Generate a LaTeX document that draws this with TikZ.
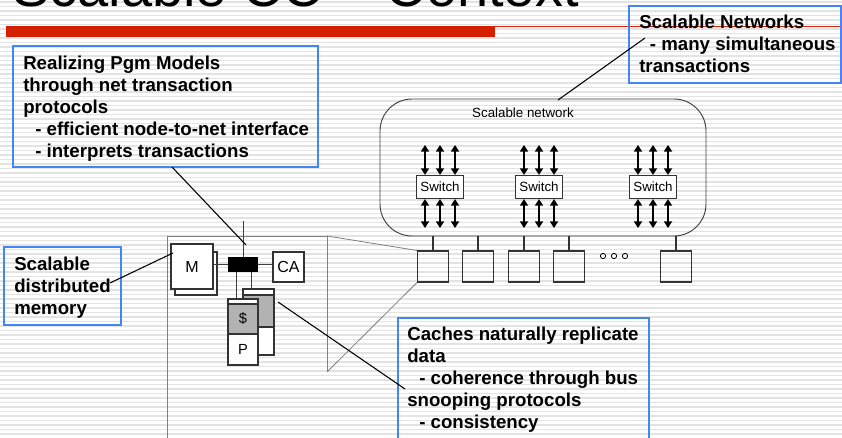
\documentclass[tikz,border=0pt]{standalone}
\usepackage{fontspec}
\setmainfont{Liberation Sans}
\usetikzlibrary{arrows.meta}
\definecolor{boxblue}{RGB}{66,133,244}
\definecolor{titlered}{RGB}{212,32,0}

\begin{document}
\begin{tikzpicture}[x=0.75pt,y=-0.75pt,
        stripe/.style={color=black!11,line width=1pt},
        note/.style={draw=boxblue,line width=1.1pt},
        notetext/.style={anchor=north west,align=left,inner sep=0pt,font=\fontsize{14}{16.5}\selectfont\bfseries},
        callout/.style={line width=0.8pt},
        frame/.style={draw=black!50,line width=0.6pt},
        unit/.style={draw=black!80,line width=0.8pt,inner sep=0pt},
        link/.style={{Triangle[width=6pt,length=5pt]}-{Triangle[width=6pt,length=5pt]},line width=1.5pt},
        small/.style={font=\fontsize{10}{12}\selectfont}]
    \def\px{0.75pt}
    \clip (0,0) rectangle (842,438);
    \fill[white] (0,0) rectangle (842,438);
    \foreach \y in {2,6.5,...,438} {
            \draw[stripe] (0,\y) -- (842,\y);
        }

    % title and bar
    \node[anchor=base west,inner sep=0pt,font=\fontsize{42}{50}\selectfont] (title) at (12,7) {Scalable CC -- Context};
    \fill[titlered] (6,26) rectangle (495,37);
    \draw[titlered,line width=0.8pt] (495,26.5) -- (842,26.5);

    % network cloud
    \draw[draw=black!75,line width=0.7pt,rounded corners=24pt] (380,99) rectangle (706,236);
    \node[small] (netlabel) at (523,113) {Scalable network};
    \foreach \n/\x in {1/440,2/539,3/653} {
            \node[unit,fill=white,small,minimum width=47*\px,minimum height=23*\px] (sw\n) at (\x,187) {Switch};
            \foreach \d in {-15,0,15} {
                    \draw[link] ([xshift=\d*\px]sw\n.north) -- ++(0,-30);
                    \draw[link] ([xshift=\d*\px]sw\n.south) -- ++(0,29);
                }
        }

    % nodes on the bus
    \foreach \n/\x in {1/433,2/478,3/524,4/569,5/676} {
            \node[unit,minimum size=31*\px] (pe\n) at (\x,266.5) {};
            \draw[draw=black!80,line width=0.8pt] (pe\n.north) -- (\x,236);
        }
    \foreach \n/\x in {1/603,2/614,3/625} {
            \node[circle,draw,line width=0.6pt,inner sep=1.4pt] (dot\n) at (\x,256) {};
        }

    % zoomed node
    \draw[frame] (327,236) -- (167,236) -- (167,438);
    \draw[frame] (327,236) -- (327,372);
    \draw[frame] (327,236) -- (pe1.north west);
    \draw[frame] (327,372) -- (pe1.south west);

    \node[unit,fill=white,minimum width=42*\px,minimum height=43*\px] (memback) at (196,273.5) {};
    \node[unit,fill=white,minimum width=42*\px,minimum height=45*\px,font=\fontsize{12}{14}\selectfont] (mem) at (192,266.5) {M};
    \node[fill=black,minimum width=30*\px,minimum height=15*\px,inner sep=0pt] (bar) at (243,264.5) {};
    \node[unit,fill=white,minimum width=31*\px,minimum height=30*\px,font=\fontsize{12}{14}\selectfont] (ca) at (288.5,267) {CA};
    \draw[draw=black!75] (bar.west) -- (bar.west -| mem.east);
    \draw[draw=black!75] (bar.east) -- (bar.east -| ca.west);
    \draw[draw=black!75] (bar.north) -- ++(0,-36);

    % caches and processors
    \node[unit,fill=white,minimum width=31*\px,minimum height=6*\px] (backtop) at (258.5,292) {};
    \node[unit,fill=black!30,minimum width=31*\px,minimum height=32*\px] (backcache) at (258.5,311) {};
    \node[unit,fill=white,minimum width=31*\px,minimum height=28*\px] (backproc) at (258.5,341) {};
    \node[unit,fill=white,minimum width=30*\px,minimum height=5*\px] (cachetop) at (243,301.5) {};
    \node[unit,fill=black!30,minimum width=30*\px,minimum height=30*\px,font=\fontsize{11}{13}\selectfont] (cache) at (243,319) {\$};
    \node[unit,fill=white,minimum width=30*\px,minimum height=31*\px,font=\fontsize{11}{13}\selectfont] (proc) at (243,349.5) {P};
    \draw[draw=black!75] ([xshift=-7*\px]bar.south) -- ([xshift=-7*\px]bar.south |- cachetop.north);
    \draw[draw=black!75] ([xshift=8*\px]bar.south) -- ([xshift=8*\px]bar.south |- backtop.north);

    % notes
    \draw[note] (13,46) rectangle (318,167);
    \node[notetext] (realize) at (23,55.5) {Realizing Pgm Models\\through net transaction\\protocols\\\hspace*{9pt}- efficient node-to-net interface\\\hspace*{9pt}- interprets transactions};
    \draw[note] (629,6) rectangle (841,83);
    \node[notetext] (nets) at (639,14.5) {Scalable Networks\\\hspace*{8pt}- many simultaneous\\transactions};
    \draw[note] (4,247) rectangle (121,325);
    \node[notetext] (memnote) at (14,256.5) {Scalable\\distributed\\memory};
    \draw[note] (398,318) rectangle (649,445);
    \node[notetext] (cachenote) at (407,326.5) {Caches naturally replicate\\data\\\hspace*{9pt}- coherence through bus\\snooping protocols\\\hspace*{9pt}- consistency};

    % callouts
    \coordinate (c1a) at (172,167);
    \coordinate (c1b) at (246,245);
    \draw[callout] (c1a) -- (c1b);
    \coordinate (c2a) at (645,38);
    \coordinate (c2b) at (558,100);
    \draw[callout] (c2a) -- (c2b);
    \coordinate (c3a) at (110,283);
    \coordinate (c3b) at (173,253);
    \draw[callout] (c3a) -- (c3b);
    \coordinate (c4a) at (278,302);
    \coordinate (c4b) at (405,389);
    \draw[callout] (c4a) -- (c4b);
\end{tikzpicture}
\end{document}
